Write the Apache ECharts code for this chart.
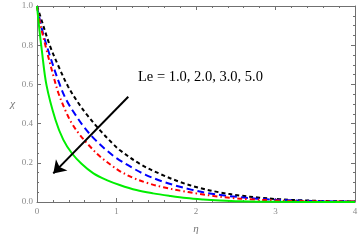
<!DOCTYPE html>
<html><head><meta charset="utf-8">
<script src="https://cdn.jsdelivr.net/npm/echarts@6/dist/echarts.min.js"></script>
<style>html,body{margin:0;padding:0;background:#fff}#c{width:361px;height:241px}</style>
</head><body><div id="c"></div>
<script>
// eta / chi pairs
const le1 = [[0,1],[0.04,0.95],[0.16,0.80],[0.28,0.684],[0.39,0.59],[0.52,0.505],[0.63,0.444],[0.79,0.367],[0.96,0.295],[1.04,0.265],[1.30,0.193],[1.55,0.143],[1.8,0.102],[2.05,0.071],[2.3,0.049],[2.55,0.033],[2.8,0.022],[3.05,0.014],[3.3,0.009],[3.6,0.005],[4,0.003]];
const le2 = [[0,1],[0.06,0.885],[0.155,0.755],[0.29,0.595],[0.37,0.52],[0.48,0.447],[0.60,0.378],[0.73,0.318],[0.88,0.262],[1.0,0.224],[1.21,0.172],[1.36,0.140],[1.57,0.106],[1.76,0.082],[1.95,0.062],[2.15,0.045],[2.36,0.033],[2.57,0.024],[2.77,0.017],[2.98,0.012],[3.3,0.007],[3.6,0.004],[4,0.002]];
const le3 = [[0,1],[0.04,0.91],[0.12,0.776],[0.205,0.645],[0.27,0.555],[0.37,0.455],[0.44,0.40],[0.54,0.342],[0.67,0.282],[0.79,0.233],[0.96,0.18],[1.04,0.158],[1.21,0.123],[1.38,0.098],[1.59,0.075],[1.80,0.058],[2.0,0.044],[2.22,0.031],[2.43,0.021],[2.68,0.014],[3.0,0.008],[3.4,0.004],[4,0.002]];
const le5 = [[0,1],[0.03,0.88],[0.06,0.776],[0.12,0.595],[0.233,0.418],[0.33,0.318],[0.436,0.250],[0.56,0.195],[0.71,0.146],[0.877,0.112],[1.04,0.087],[1.25,0.061],[1.46,0.044],[1.67,0.031],[1.88,0.02],[2.09,0.013],[2.3,0.008],[2.55,0.004],[3,0.001],[4,0]];
const arrowFrom = [1.148, 0.537];
const arrowTo = [0.205, 0.146];
const annot = 'Le = 1.0, 2.0, 3.0, 5.0';

const chart = echarts.init(document.getElementById('c'), null, {renderer:'canvas'});
const axisCol = '#707070';
const lblCol = '#8a8a8a';
const serif = '"Liberation Serif","DejaVu Serif",serif';
function xa(pos, show){
  return {type:'value', min:0, max:4, interval:1, position:pos,
    axisLine:{show:true, onZero:false, lineStyle:{color:axisCol, width:1}},
    axisTick:{show:true, inside:true, length:4, lineStyle:{color:axisCol}},
    minorTick:{show:true, splitNumber:5, length:2, lineStyle:{color:axisCol}},
    splitLine:{show:false},
    axisLabel:{show:show, color:lblCol, fontFamily:serif, fontSize:9, margin:5},
    name: show ? 'η' : '', nameLocation:'middle', nameGap:22,
    nameTextStyle:{color:'#777', fontFamily:serif, fontStyle:'italic', fontSize:11}};
}
function ya(pos, show){
  return {type:'value', min:0, max:1, interval:0.2, position:pos,
    axisLine:{show:true, onZero:false, lineStyle:{color:axisCol, width:1}},
    axisTick:{show:true, inside:true, length:4, lineStyle:{color:axisCol}},
    minorTick:{show:true, splitNumber:4, length:2, lineStyle:{color:axisCol}},
    splitLine:{show:false},
    axisLabel:{show:show, color:lblCol, fontFamily:serif, fontSize:9, margin:4,
      formatter:v=>v.toFixed(1)},
    name: show ? 'χ' : '', nameLocation:'middle', nameGap:22, nameRotate:0,
    nameTextStyle:{color:'#777', fontFamily:serif, fontStyle:'italic', fontSize:11}};
}
function ser(data, color, type, w){
  return {type:'line', data:data, xAxisIndex:0, yAxisIndex:0, smooth:0.35,
    showSymbol:false, symbol:'none', lineStyle:{color:color, width:w, type:type}, z:3};
}
chart.setOption({
  animation:false,
  grid:{left:37, right:6, top:6, bottom:39, containLabel:false},
  xAxis:[xa('bottom', true), xa('top', false)],
  yAxis:[ya('left', true), ya('right', false)],
  series:[
    ser(le1, '#000000', [4,3], 2),
    ser(le2, '#0000ff', [7,4], 2),
    ser(le3, '#ff0000', [5,3,1.5,3], 2),
    ser(le5, '#00ee00', 'solid', 2),
    {type:'line', data:[], xAxisIndex:0, yAxisIndex:0, z:5,
      markLine:{silent:true, symbol:['none','arrow'], symbolSize:12,
        label:{show:false}, animation:false,
        lineStyle:{color:'#000', width:2, type:'solid'},
        data:[[{coord:arrowFrom},{coord:arrowTo}]]}}
  ],
  graphic:[{type:'text', x:138, y:77,
    style:{text:annot, fill:'#000', font:'14.5px "Liberation Serif", serif', verticalAlign:'middle'}}]
});
</script></body></html>
